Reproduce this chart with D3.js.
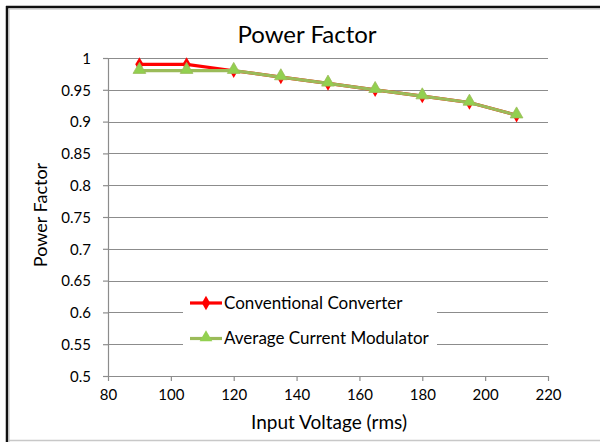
<!DOCTYPE html>
<html>
<head>
<meta charset="utf-8">
<script src="https://cdn.jsdelivr.net/npm/d3@7"></script>
<style>
  body { margin: 0; background: #fff; }
  text { font-family: Lato, "Open Sans", sans-serif; fill: #000; }
</style>
</head>
<body>
<div id="chart"></div>
<script>
// Power Factor vs input voltage

var voltages = [90, 105, 120, 135, 150, 165, 180, 195, 210];
var conventional = [0.99, 0.99, 0.98, 0.97, 0.96, 0.95, 0.94, 0.93, 0.91];
var averageCurrent = [0.98, 0.98, 0.98, 0.97, 0.96, 0.95, 0.94, 0.93, 0.91];
var xTicks = [80, 100, 120, 140, 160, 180, 200, 220];
var yTicks = [0.5, 0.55, 0.6, 0.65, 0.7, 0.75, 0.8, 0.85, 0.9, 0.95, 1];
var seriesNames = ["Conventional Converter", "Average Current Modulator"];

var svgWidth = 600;
var svgHeight = 442;

var margin = { top: 58, right: 52, bottom: 66, left: 108 };
var width = 548 - margin.left;
var height = 376 - margin.top;

var svg = d3.select("#chart")
  .append("svg")
  .attr("width", svgWidth)
  .attr("height", svgHeight);

// outer frame (black top/left, light gray bottom)
svg.append("line").attr("x1", 7).attr("y1", 6).attr("x2", 7).attr("y2", 442)
  .attr("stroke", "#111").attr("stroke-width", 2.5);
svg.append("line").attr("x1", 6).attr("y1", 7).attr("x2", 600).attr("y2", 7)
  .attr("stroke", "#111").attr("stroke-width", 2.5);
svg.append("line").attr("x1", 9).attr("y1", 9).attr("x2", 9).attr("y2", 442)
  .attr("stroke", "#bbb").attr("stroke-width", 1);
svg.append("line").attr("x1", 9).attr("y1", 9).attr("x2", 600).attr("y2", 9)
  .attr("stroke", "#bbb").attr("stroke-width", 1);
svg.append("line").attr("x1", 9).attr("y1", 440.5).attr("x2", 600).attr("y2", 440.5)
  .attr("stroke", "#c8c8c8").attr("stroke-width", 1.5);

var chartGroup = svg.append("g")
  .attr("transform", `translate(${margin.left}, ${margin.top})`);

var xScale = d3.scaleLinear().domain([80, 220]).range([0, width]);
var yScale = d3.scaleLinear().domain([0.5, 1]).range([height, 0]);

// gridlines
chartGroup.append("g")
  .selectAll("line")
  .data(yTicks.slice(1))
  .enter()
  .append("line")
  .attr("x1", 0)
  .attr("x2", width)
  .attr("y1", d => Math.round(yScale(d)) + 0.5)
  .attr("y2", d => Math.round(yScale(d)) + 0.5)
  .attr("stroke", "#8c8c8c")
  .attr("stroke-width", 1.2);

// axes
var bottomAxis = d3.axisBottom(xScale).tickValues(xTicks).tickSize(5).tickSizeOuter(0).tickFormat(d3.format("d"));
var leftAxis = d3.axisLeft(yScale).tickValues(yTicks).tickSize(5).tickSizeOuter(0).tickFormat(d => String(d));

var xAxisG = chartGroup.append("g")
  .attr("transform", `translate(0, ${height})`)
  .call(bottomAxis);
var yAxisG = chartGroup.append("g").call(leftAxis);

[xAxisG, yAxisG].forEach(function(g) {
  g.select(".domain").attr("stroke", "#8c8c8c").attr("stroke-width", 1.2);
  g.selectAll(".tick line").attr("stroke", "#8c8c8c").attr("stroke-width", 1.2);
  g.selectAll(".tick text").attr("font-size", 15).attr("fill", "#000")
    .style("font-family", "Lato, sans-serif");
});
xAxisG.selectAll(".tick text").attr("dy", 0).attr("y", 24);
yAxisG.selectAll(".tick text").attr("x", -17).attr("dy", "0.35em");

// lines
var lineGen = d3.line()
  .x(d => xScale(d[0]))
  .y(d => yScale(d[1]));

var redData = voltages.map((v, i) => [v, conventional[i]]);
var greenData = voltages.map((v, i) => [v, averageCurrent[i]]);

chartGroup.append("path")
  .datum(redData)
  .attr("d", lineGen)
  .attr("fill", "none")
  .attr("stroke", "#ff0000")
  .attr("stroke-width", 3.2);

var diamond = d3.symbol().type(d3.symbolDiamond).size(60);
chartGroup.selectAll(".red-pt")
  .data(redData)
  .enter()
  .append("path")
  .attr("class", "red-pt")
  .attr("d", diamond)
  .attr("transform", d => `translate(${xScale(d[0])}, ${yScale(d[1])})`)
  .attr("fill", "#ff0000");

chartGroup.append("path")
  .datum(greenData)
  .attr("d", lineGen)
  .attr("fill", "none")
  .attr("stroke", "#9bbb59")
  .attr("stroke-width", 3.2);

var triangle = d3.symbol().type(d3.symbolTriangle).size(70);
chartGroup.selectAll(".green-pt")
  .data(greenData)
  .enter()
  .append("path")
  .attr("class", "green-pt")
  .attr("d", triangle)
  .attr("transform", d => `translate(${xScale(d[0])}, ${yScale(d[1]) - 1})`)
  .attr("fill", "#92d050")
  .attr("stroke", "#9bbb59")
  .attr("stroke-width", 0.8);

// legend
var legend = chartGroup.append("g").attr("transform", `translate(${183 - margin.left}, ${287 - margin.top})`);
legend.append("rect")
  .attr("width", 254)
  .attr("height", 66)
  .attr("fill", "#fff");

var legendRows = legend.selectAll(".row")
  .data(seriesNames)
  .enter()
  .append("g")
  .attr("transform", (d, i) => `translate(0, ${16 + i * 35.5})`);

legendRows.append("line")
  .attr("x1", 7).attr("x2", 39)
  .attr("y1", 0).attr("y2", 0)
  .attr("stroke", (d, i) => i === 0 ? "#ff0000" : "#9bbb59")
  .attr("stroke-width", 3.2);

legendRows.append("path")
  .attr("d", (d, i) => i === 0 ? diamond() : triangle())
  .attr("transform", (d, i) => `translate(23, ${i === 0 ? 0 : -1})`)
  .attr("fill", (d, i) => i === 0 ? "#ff0000" : "#92d050");

legendRows.append("text")
  .attr("x", 41)
  .attr("dy", "0.35em")
  .attr("font-size", 17)
  .text(d => d);

// titles
svg.append("text")
  .attr("x", 307)
  .attr("y", 43)
  .attr("text-anchor", "middle")
  .attr("font-size", 24)
  .text("Power Factor");

svg.append("text")
  .attr("x", 329)
  .attr("y", 429)
  .attr("text-anchor", "middle")
  .attr("font-size", 19)
  .text("Input Voltage (rms)");

svg.append("text")
  .attr("transform", `translate(47, 215) rotate(-90)`)
  .attr("text-anchor", "middle")
  .attr("font-size", 18)
  .text("Power Factor");
</script>
</body>
</html>
